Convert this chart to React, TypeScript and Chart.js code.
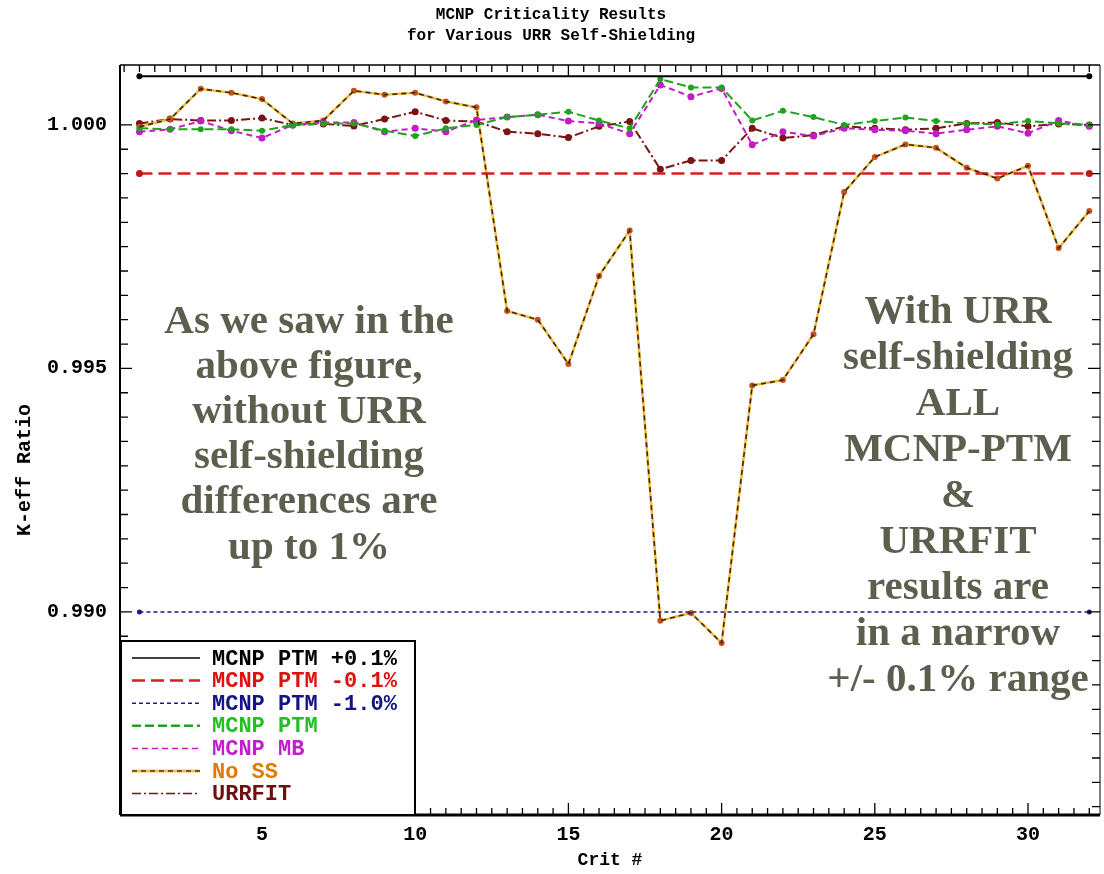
import React, { useEffect, useRef } from "react";
import { Chart, registerables } from "chart.js";

Chart.register(...registerables);

// ---------- data ----------
const critNumbers = [1, 2, 3, 4, 5, 6, 7, 8, 9, 10, 11, 12, 13, 14, 15, 16, 17, 18, 19, 20, 21, 22, 23, 24, 25, 26, 27, 28, 29, 30, 31, 32];

const mcnpPtm = [0.99993, 0.99991, 0.99991, 0.99991, 0.99988, 1.0, 1.00003, 1.00003, 0.99988, 0.99977, 0.99993, 1.0, 1.00016, 1.00021, 1.00027, 1.00009, 0.99993, 1.00094, 1.00077, 1.00077, 1.00009, 1.00029, 1.00016, 1.0, 1.00008, 1.00015, 1.00008, 1.00003, 1.00001, 1.00008, 1.00003, 1.0];

const mcnpMb = [0.99986, 0.99991, 1.00008, 0.99988, 0.99973, 1.0, 1.00005, 1.00005, 0.99986, 0.99993, 0.99986, 1.0001, 1.00016, 1.00021, 1.00008, 1.00003, 0.99982, 1.00082, 1.00058, 1.00075, 0.99959, 0.99986, 0.99977, 0.99993, 0.9999, 0.99988, 0.99982, 0.9999, 0.99997, 0.99983, 1.00009, 0.99997];

const noSS = [0.99996, 1.00012, 1.00074, 1.00066, 1.00053, 1.00003, 1.00009, 1.0007, 1.00062, 1.00066, 1.00048, 1.00036, 0.99618, 0.996, 0.99509, 0.9969, 0.99783, 0.98982, 0.98998, 0.98936, 0.99465, 0.99476, 0.9957, 0.99862, 0.99934, 0.9996, 0.99953, 0.99912, 0.9989, 0.99916, 0.99747, 0.99823];

const urrfit = [1.00003, 1.00012, 1.00009, 1.00009, 1.00014, 1.0, 1.00002, 0.99998, 1.00012, 1.00027, 1.00009, 1.00007, 0.99986, 0.99982, 0.99974, 0.99997, 1.00007, 0.99909, 0.99927, 0.99927, 0.99993, 0.99973, 0.99979, 0.99997, 0.99993, 0.9999, 0.99993, 1.00003, 1.00005, 0.99997, 1.00002, 1.0];

const refEnds = [1, 32];
const plusPoint1 = [1.001, 1.001];
const minusPoint1 = [0.999, 0.999];
const minusOne = [0.99, 0.99];

const xMajorTicks = [5, 10, 15, 20, 25, 30];
const yMajorTicks = [0.99, 0.995, 1.0];

const titleLines = ["MCNP Criticality Results", "for Various URR Self-Shielding"];
const xTitle = "Crit #";
const yTitle = "K-eff Ratio";

const leftNote = ["As we saw in the", "above figure,", "without URR", "self-shielding", "differences are", "up to 1%"];
const rightNote = ["With URR", "self-shielding", "ALL", "MCNP-PTM", "&", "URRFIT", "results are", "in a narrow", "+/- 0.1% range"];

// ---------- styling ----------
const MONO = "'Liberation Mono', 'DejaVu Sans Mono', monospace";
const SERIF = "'Liberation Serif', 'DejaVu Serif', serif";
const X_MIN = 0.365;
const X_MAX = 32.35;
const Y_MIN = 0.98583;
const Y_MAX = 1.00123;

const pts = (xs: number[], ys: number[]) => xs.map((x, i) => ({ x, y: ys[i] }));

const legendTextColors: Record<string, string> = {
  "MCNP PTM +0.1%": "#000000",
  "MCNP PTM -0.1%": "#e01010",
  "MCNP PTM -1.0%": "#141488",
  "MCNP PTM": "#22c022",
  "MCNP MB": "#c41cd0",
  "No SS": "#e07a00",
  "URRFIT": "#6e1010",
};

const framePlugin = {
  id: "frameTicks",
  afterDatasetsDraw(chart: any) {
    const { ctx, chartArea: a, scales } = chart;
    const xs = scales.x;
    const ys = scales.y;
    ctx.save();
    ctx.strokeStyle = "#000";
    ctx.lineWidth = 2;
    ctx.beginPath();
    ctx.moveTo(a.left, a.top);
    ctx.lineTo(a.left, a.bottom);
    ctx.stroke();
    ctx.lineWidth = 1.5;
    ctx.beginPath();
    ctx.moveTo(a.left, a.top);
    ctx.lineTo(a.right, a.top);
    ctx.stroke();
    ctx.lineWidth = 1;
    ctx.beginPath();
    ctx.moveTo(a.right, a.top);
    ctx.lineTo(a.right, a.bottom);
    ctx.stroke();
    ctx.lineWidth = 3;
    ctx.beginPath();
    ctx.moveTo(a.left, a.bottom);
    ctx.lineTo(a.right, a.bottom);
    ctx.stroke();
    ctx.lineWidth = 1.3;
    for (let k = 1; k <= 64; k++) {
      const v = k * 0.5;
      if (v < X_MIN || v > X_MAX) continue;
      const major = Math.abs(v / 5 - Math.round(v / 5)) < 1e-6;
      const len = major ? 12 : 7;
      const px = xs.getPixelForValue(v);
      ctx.beginPath();
      ctx.moveTo(px, a.bottom);
      ctx.lineTo(px, a.bottom - len);
      ctx.moveTo(px, a.top);
      ctx.lineTo(px, a.top + len);
      ctx.stroke();
    }
    for (let k = 0; k <= 40; k++) {
      const v = 0.98 + k * 0.0005;
      if (v < Y_MIN || v > Y_MAX) continue;
      const major = Math.abs(v / 0.005 - Math.round(v / 0.005)) < 1e-6;
      const len = major ? 12 : 8;
      const py = ys.getPixelForValue(v);
      ctx.beginPath();
      ctx.moveTo(a.left, py);
      ctx.lineTo(a.left + len, py);
      ctx.moveTo(a.right, py);
      ctx.lineTo(a.right - len, py);
      ctx.stroke();
    }
    ctx.restore();
  },
};

const notesPlugin = {
  id: "notes",
  afterDraw(chart: any) {
    const { ctx } = chart;
    ctx.save();
    ctx.fillStyle = "#5e5e4e";
    ctx.font = `bold 41px ${SERIF}`;
    ctx.textAlign = "center";
    ctx.textBaseline = "middle";
    leftNote.forEach((t, i) => ctx.fillText(t, 309, 322 + i * 45.2));
    rightNote.forEach((t, i) => ctx.fillText(t, 958, 312 + i * 46));
    ctx.fillStyle = "#000";
    ctx.font = `bold 20px ${MONO}`;
    ctx.translate(25, 470);
    ctx.rotate(-Math.PI / 2);
    ctx.fillText(yTitle, 0, 0);
    ctx.restore();
  },
};

const legendBoxPlugin = {
  id: "legendBox",
  afterDraw(chart: any) {
    const { ctx } = chart;
    const left = 121;
    const top = 641;
    const right = 415;
    const bottom = chart.chartArea.bottom;
    ctx.save();
    ctx.fillStyle = "#fff";
    ctx.fillRect(left, top, right - left, bottom - top);
    ctx.strokeStyle = "#000";
    ctx.lineWidth = 2;
    ctx.strokeRect(left, top, right - left, bottom - top);
    const entries = chart.data.datasets.filter((d: any) => !d.hideInLegend);
    entries.forEach((d: any, i: number) => {
      const y = 658 + i * 22.6;
      if (d.underColor) {
        ctx.strokeStyle = d.underColor;
        ctx.lineWidth = 3;
        ctx.setLineDash([]);
        ctx.beginPath();
        ctx.moveTo(132, y);
        ctx.lineTo(200, y);
        ctx.stroke();
      }
      ctx.strokeStyle = d.legendLine || d.borderColor;
      ctx.lineWidth = d.legendWidth || 1.5;
      ctx.setLineDash(d.legendDash || d.borderDash || []);
      ctx.beginPath();
      ctx.moveTo(132, y);
      ctx.lineTo(200, y);
      ctx.stroke();
      ctx.setLineDash([]);
      ctx.fillStyle = legendTextColors[d.label] || "#000";
      ctx.font = `bold 22px ${MONO}`;
      ctx.textAlign = "left";
      ctx.textBaseline = "middle";
      ctx.fillText(d.label, 212, y + 1);
    });
    ctx.restore();
  },
};

export default function App() {
  const ref = useRef<HTMLCanvasElement | null>(null);

  useEffect(() => {
    if (!ref.current) return;
    const axisFont = { family: MONO, size: 20, weight: "bold" as const };
    const chart = new Chart(ref.current, {
      type: "line",
      data: {
        datasets: [
          {
            label: "MCNP PTM +0.1%",
            data: pts(refEnds, plusPoint1),
            borderColor: "#000000",
            backgroundColor: "#000000",
            borderWidth: 2,
            pointRadius: 3,
            pointBorderWidth: 0,
            legendWidth: 1.5,
          } as any,
          {
            label: "MCNP PTM -0.1%",
            data: pts(refEnds, minusPoint1),
            borderColor: "#d81e1e",
            backgroundColor: "#c01818",
            borderWidth: 2.5,
            borderDash: [13, 6],
            pointRadius: 3.5,
            pointBorderWidth: 0,
            legendWidth: 2.5,
          } as any,
          {
            label: "MCNP PTM -1.0%",
            data: pts(refEnds, minusOne),
            borderColor: "#1a1a80",
            backgroundColor: "#1a1a80",
            borderWidth: 1.5,
            borderDash: [4, 3],
            pointRadius: 2.5,
            pointBorderWidth: 0,
          } as any,
          {
            label: "MCNP PTM",
            data: pts(critNumbers, mcnpPtm),
            borderColor: "#1fa31f",
            backgroundColor: "#1fa31f",
            borderWidth: 2,
            borderDash: [9, 4],
            pointRadius: 3,
            pointBorderWidth: 0,
            legendWidth: 2.5,
          } as any,
          {
            label: "MCNP MB",
            data: pts(critNumbers, mcnpMb),
            borderColor: "#c21cc8",
            backgroundColor: "#c21cc8",
            borderWidth: 2,
            borderDash: [6, 4],
            pointRadius: 3.5,
            pointBorderWidth: 0,
          } as any,
          {
            label: "No SS",
            data: pts(critNumbers, noSS),
            borderColor: "#f6bc40",
            backgroundColor: "#c8501a",
            borderWidth: 2.6,
            pointRadius: 3,
            pointBorderWidth: 0,
            legendLine: "#4a3418",
            legendDash: [5, 4],
            underColor: "#f6c24a",
          } as any,
          {
            label: "URRFIT",
            data: pts(critNumbers, urrfit),
            borderColor: "#7a1414",
            backgroundColor: "#7a1414",
            borderWidth: 2,
            borderDash: [9, 3, 2, 3],
            pointRadius: 3.5,
            pointBorderWidth: 0,
          } as any,
          {
            label: "No SS overlay",
            hideInLegend: true,
            data: pts(critNumbers, noSS),
            borderColor: "#3a2810",
            borderWidth: 1.6,
            borderDash: [5, 4],
            pointRadius: 0,
            order: -1,
          } as any,
        ],
      },
      options: {
        animation: false,
        responsive: false,
        layout: { padding: { left: 0, right: 2, top: 0, bottom: 0 } },
        elements: { line: { tension: 0 } },
        plugins: {
          legend: { display: false },
          tooltip: { enabled: false },
          title: {
            display: true,
            text: titleLines,
            color: "#000",
            font: { family: MONO, size: 16, weight: "bold", lineHeight: 1.35 },
            padding: { top: 4, bottom: 17.8 },
          },
        },
        scales: {
          x: {
            type: "linear",
            min: X_MIN,
            max: X_MAX,
            afterBuildTicks: (s: any) => {
              s.ticks = xMajorTicks.map((v) => ({ value: v }));
            },
            afterFit: (s: any) => {
              s.height = 59;
            },
            grid: { drawOnChartArea: false, drawTicks: false },
            border: { display: false },
            ticks: { color: "#000", font: axisFont, padding: 8, maxRotation: 0, autoSkip: false },
            title: { display: true, text: xTitle, color: "#000", font: { family: MONO, size: 18, weight: "bold" }, padding: { top: 0, bottom: 3 } },
          },
          y: {
            type: "linear",
            min: Y_MIN,
            max: Y_MAX,
            afterBuildTicks: (s: any) => {
              s.ticks = yMajorTicks.map((v) => ({ value: v }));
            },
            afterFit: (s: any) => {
              s.width = 120;
            },
            grid: { drawOnChartArea: false, drawTicks: false },
            border: { display: false },
            ticks: {
              color: "#000",
              font: axisFont,
              padding: 13,
              autoSkip: false,
              callback: (v: any) => Number(v).toFixed(3),
            },
            title: { display: false, text: yTitle },
          },
        },
      } as any,
      plugins: [framePlugin, notesPlugin, legendBoxPlugin],
    });
    return () => chart.destroy();
  }, []);

  return (
    <div style={{ position: "fixed", left: 0, top: 0, width: 1104, height: 874, background: "#fff" }}>
      <canvas ref={ref} width={1104} height={874} style={{ display: "block" }} />
    </div>
  );
}
